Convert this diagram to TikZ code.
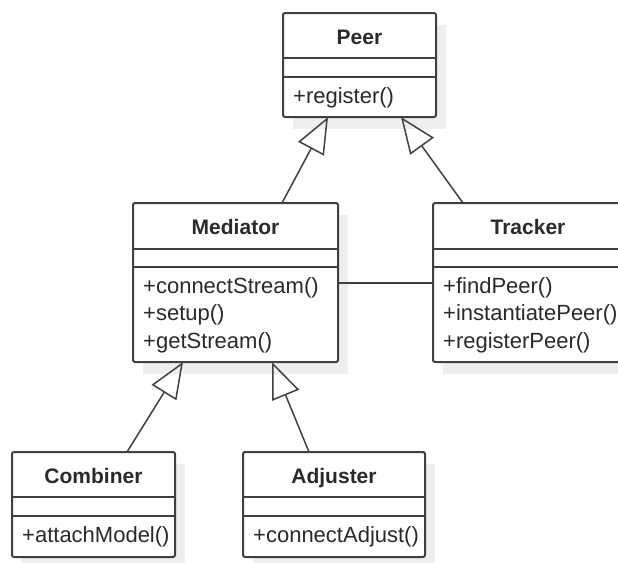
\documentclass[tikz,border=0pt]{standalone}
\usepackage{fontspec}
\setmainfont{Liberation Sans}
\usetikzlibrary{arrows.meta,calc}
\definecolor{ln}{HTML}{404040}
\definecolor{tx}{HTML}{2A2A2A}
\definecolor{shd}{HTML}{EEEEEE}
\begin{document}
\begin{tikzpicture}[x=1pt,y=-1pt,
  cls/.style={draw=ln, line width=2pt, fill=white, rounded corners=2pt, inner sep=0pt, outer sep=0pt},
  shadowbox/.style={fill=shd},
  divider/.style={draw=ln, line width=2pt},
  title/.style={font=\bfseries\fontsize{21}{25}\selectfont, text=tx, anchor=base, inner sep=0pt},
  meth/.style={font=\fontsize{22}{27.5}\selectfont, text=tx, anchor=base west, inner sep=0pt},
  gen/.style={draw=ln, line width=1.5pt, -{Triangle[open, length=36pt, width=29pt, line width=1.5pt]}},
  assoc/.style={draw=ln, line width=2pt}]
\useasboundingbox (0,0) rectangle (618,562);
\clip (0,0) rectangle (618,562);
\fill[white] (0,0) rectangle (618,562);

% shadows
\fill[shadowbox] (293,25) rectangle (446,129);
\fill[shadowbox] (143,215) rectangle (348,374);
\fill[shadowbox] (443,215) rectangle (650,374);
\fill[shadowbox] (22,464) rectangle (185,569);
\fill[shadowbox] (253,464) rectangle (435,569);

% boxes
\node[cls, minimum width=153pt, minimum height=104pt] (peer) at (359.5,65) {};
\node[cls, minimum width=205pt, minimum height=159pt] (med) at (235.5,282.5) {};
\node[cls, minimum width=207pt, minimum height=159pt] (trk) at (536.5,282.5) {};
\node[cls, minimum width=163pt, minimum height=105pt] (comb) at (93.5,504.5) {};
\node[cls, minimum width=182pt, minimum height=105pt] (adj) at (334,504.5) {};

% dividers
\draw[divider] (283,58) -- (436,58);
\draw[divider] (283,77) -- (436,77);
\draw[divider] (133,249) -- (338,249);
\draw[divider] (133,267) -- (338,267);
\draw[divider] (433,249) -- (640,249);
\draw[divider] (433,267) -- (640,267);
\draw[divider] (12,497) -- (175,497);
\draw[divider] (12,516) -- (175,516);
\draw[divider] (243,497) -- (425,497);
\draw[divider] (243,516) -- (425,516);

% titles
\node[title] (peerT) at (359.5,44) {Peer};
\node[title] (medT) at (235.5,234) {Mediator};
\node[title] (trkT) at (528,234) {Tracker};
\node[title] (combT) at (93.5,483) {Combiner};
\node[title] (adjT) at (334,483) {Adjuster};

% methods
\node[meth] (peerM1) at (293,103) {+register()};
\node[meth] (medM1) at (143,293) {+connectStream()};
\node[meth] (medM2) at (143,320.5) {+setup()};
\node[meth] (medM3) at (143,348) {+getStream()};
\node[meth] (trkM1) at (443,293) {+findPeer()};
\node[meth] (trkM2) at (443,320.5) {+instantiatePeer()};
\node[meth] (trkM3) at (443,348) {+registerPeer()};
\node[meth] (combM1) at (22,542) {+attachModel()};
\node[meth] (adjM1) at (253,542) {+connectAdjust()};

% connectors
\draw[gen] ([xshift=149pt]med.north west) -- ([xshift=45pt]peer.south west);
\draw[gen] ([xshift=30pt]trk.north west) -- ([xshift=118pt]peer.south west);
\draw[gen] ([xshift=115pt]comb.north west) -- ([xshift=50pt]med.south west);
\draw[gen] ([xshift=66pt]adj.north west) -- ([xshift=139pt]med.south west);
\draw[assoc] (med.east) -- (med.east -| trk.west);
\end{tikzpicture}
\end{document}
